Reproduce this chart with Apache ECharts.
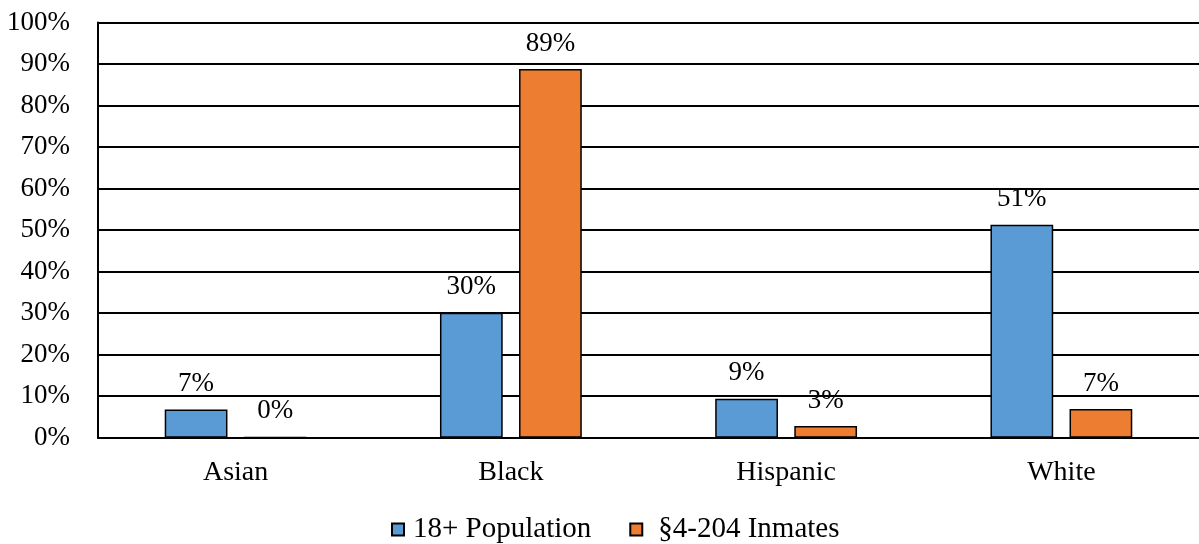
<!DOCTYPE html>
<html>
<head>
<meta charset="utf-8">
<script src="https://cdn.jsdelivr.net/npm/echarts@6/dist/echarts.min.js"></script>
<style>
  html, body { margin: 0; padding: 0; background: #fff; }
  #chart { width: 1199px; height: 544px; }
</style>
</head>
<body>
<div id="chart"></div>
<script>
// Share of population by race: adults vs. §4-204 inmates (percent)
const categories = ['Asian', 'Black', 'Hispanic', 'White'];
const population18 = [6.8, 30.1, 9.4, 51.3];
const inmates = [0.1, 88.8, 2.8, 6.9];
const seriesNames = ['18+ Population', '§4-204 Inmates'];

const FONT = 'Liberation Serif, Times New Roman, serif';
const FS = 27;
const chart = echarts.init(document.getElementById('chart'));

const labelOpt = {
  show: true,
  position: 'top',
  distance: 12,
  color: '#000',
  fontFamily: FONT,
  fontSize: FS,
  formatter: p => Math.round(p.value) + '%'
};

chart.setOption({
  animation: false,
  grid: { left: 98, right: 0, top: 22.5, bottom: 106.3, containLabel: false },
  legend: {
    bottom: 0,
    left: 391,
    padding: 0,
    itemWidth: 12,
    itemHeight: 12,
    itemGap: 38,
    icon: 'rect',
    textStyle: { fontFamily: FONT, fontSize: 29, color: '#000', padding: [0, 0, 0, 4] },
    data: [
      { name: seriesNames[0] },
      { name: seriesNames[1], textStyle: { padding: [0, 0, 0, 11] } }
    ]
  },
  xAxis: {
    type: 'category',
    data: categories,
    axisLine: { lineStyle: { color: '#000', width: 2 } },
    axisTick: { show: false },
    axisLabel: { color: '#000', fontFamily: FONT, fontSize: 28, margin: 21 }
  },
  yAxis: {
    type: 'value',
    min: 0,
    max: 100,
    interval: 10,
    axisLine: { show: true, lineStyle: { color: '#000', width: 2 } },
    axisTick: { show: false },
    splitLine: { lineStyle: { color: '#000', width: 2 } },
    axisLabel: { color: '#000', fontFamily: FONT, fontSize: FS, margin: 28, formatter: '{value}%' }
  },
  series: [
    {
      name: seriesNames[0],
      type: 'bar',
      data: population18,
      barWidth: '22.8%',
      barGap: '26%',
      itemStyle: { color: '#5B9BD5', borderColor: '#000', borderWidth: 1.5 },
      label: labelOpt
    },
    {
      name: seriesNames[1],
      type: 'bar',
      data: inmates,
      barWidth: '22.8%',
      itemStyle: { color: '#ED7D31', borderColor: '#000', borderWidth: 1.5 },
      label: labelOpt
    }
  ]
});
</script>
</body>
</html>
